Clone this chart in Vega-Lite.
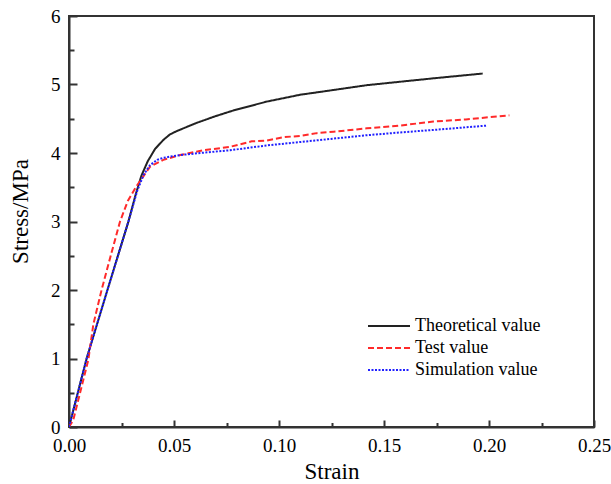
{
  "$schema": "https://vega.github.io/schema/vega-lite/v6.json",
  "width": 525,
  "height": 411,
  "autosize": {"type": "none"},
  "padding": {"left": 69, "top": 16, "right": 17, "bottom": 57},
  "background": "white",
  "config": {
    "view": {"stroke": "#333333", "strokeWidth": 2},
    "font": "Liberation Serif",
    "axis": {
      "labelFont": "Liberation Serif",
      "titleFont": "Liberation Serif",
      "labelFontSize": 19,
      "titleFontSize": 23,
      "titleFontWeight": "normal",
      "labelColor": "#000000",
      "titleColor": "#000000",
      "domainColor": "#333333",
      "domainWidth": 2,
      "tickColor": "#333333",
      "tickWidth": 2,
      "grid": false
    }
  },
  "data": {
    "values": [
      {"series": "Theoretical value", "strain": 0.0, "stress": 0.0},
      {"series": "Theoretical value", "strain": 0.0084, "stress": 1.0},
      {"series": "Theoretical value", "strain": 0.0183, "stress": 2.0},
      {"series": "Theoretical value", "strain": 0.0283, "stress": 3.0},
      {"series": "Theoretical value", "strain": 0.0318, "stress": 3.4},
      {"series": "Theoretical value", "strain": 0.0345, "stress": 3.67},
      {"series": "Theoretical value", "strain": 0.0375, "stress": 3.88},
      {"series": "Theoretical value", "strain": 0.041, "stress": 4.06},
      {"series": "Theoretical value", "strain": 0.0449, "stress": 4.19},
      {"series": "Theoretical value", "strain": 0.048, "stress": 4.27},
      {"series": "Theoretical value", "strain": 0.0513, "stress": 4.32},
      {"series": "Theoretical value", "strain": 0.0608, "stress": 4.44},
      {"series": "Theoretical value", "strain": 0.07, "stress": 4.54},
      {"series": "Theoretical value", "strain": 0.0782, "stress": 4.62},
      {"series": "Theoretical value", "strain": 0.0941, "stress": 4.75},
      {"series": "Theoretical value", "strain": 0.11, "stress": 4.85},
      {"series": "Theoretical value", "strain": 0.126, "stress": 4.92},
      {"series": "Theoretical value", "strain": 0.1418, "stress": 4.99},
      {"series": "Theoretical value", "strain": 0.1576, "stress": 5.04},
      {"series": "Theoretical value", "strain": 0.1735, "stress": 5.09},
      {"series": "Theoretical value", "strain": 0.197, "stress": 5.16},
      {"series": "Test value", "strain": 0.0, "stress": 0.0},
      {"series": "Test value", "strain": 0.002, "stress": 0.1},
      {"series": "Test value", "strain": 0.0052, "stress": 0.49},
      {"series": "Test value", "strain": 0.0092, "stress": 0.98},
      {"series": "Test value", "strain": 0.0116, "stress": 1.5},
      {"series": "Test value", "strain": 0.0155, "stress": 2.0},
      {"series": "Test value", "strain": 0.0203, "stress": 2.55},
      {"series": "Test value", "strain": 0.0243, "stress": 3.0},
      {"series": "Test value", "strain": 0.028, "stress": 3.3},
      {"series": "Test value", "strain": 0.032, "stress": 3.51},
      {"series": "Test value", "strain": 0.0386, "stress": 3.8},
      {"series": "Test value", "strain": 0.0449, "stress": 3.9},
      {"series": "Test value", "strain": 0.0529, "stress": 3.97},
      {"series": "Test value", "strain": 0.064, "stress": 4.04},
      {"series": "Test value", "strain": 0.0767, "stress": 4.09},
      {"series": "Test value", "strain": 0.087, "stress": 4.17},
      {"series": "Test value", "strain": 0.094, "stress": 4.18},
      {"series": "Test value", "strain": 0.102, "stress": 4.23},
      {"series": "Test value", "strain": 0.11, "stress": 4.25},
      {"series": "Test value", "strain": 0.118, "stress": 4.29},
      {"series": "Test value", "strain": 0.126, "stress": 4.31},
      {"series": "Test value", "strain": 0.1418, "stress": 4.36},
      {"series": "Test value", "strain": 0.1576, "stress": 4.4},
      {"series": "Test value", "strain": 0.1735, "stress": 4.46},
      {"series": "Test value", "strain": 0.189, "stress": 4.49},
      {"series": "Test value", "strain": 0.2097, "stress": 4.55},
      {"series": "Simulation value", "strain": 0.0, "stress": 0.0},
      {"series": "Simulation value", "strain": 0.0084, "stress": 1.0},
      {"series": "Simulation value", "strain": 0.0183, "stress": 2.0},
      {"series": "Simulation value", "strain": 0.0283, "stress": 3.0},
      {"series": "Simulation value", "strain": 0.0325, "stress": 3.45},
      {"series": "Simulation value", "strain": 0.0355, "stress": 3.68},
      {"series": "Simulation value", "strain": 0.0385, "stress": 3.82},
      {"series": "Simulation value", "strain": 0.042, "stress": 3.9},
      {"series": "Simulation value", "strain": 0.0449, "stress": 3.93},
      {"series": "Simulation value", "strain": 0.0529, "stress": 3.97},
      {"series": "Simulation value", "strain": 0.0624, "stress": 4.0},
      {"series": "Simulation value", "strain": 0.0767, "stress": 4.04},
      {"series": "Simulation value", "strain": 0.094, "stress": 4.11},
      {"series": "Simulation value", "strain": 0.11, "stress": 4.16},
      {"series": "Simulation value", "strain": 0.126, "stress": 4.21},
      {"series": "Simulation value", "strain": 0.142, "stress": 4.26},
      {"series": "Simulation value", "strain": 0.1576, "stress": 4.3},
      {"series": "Simulation value", "strain": 0.175, "stress": 4.34},
      {"series": "Simulation value", "strain": 0.199, "stress": 4.4}
    ]
  },
  "mark": {"type": "line", "strokeWidth": 2, "clip": true},
  "encoding": {
    "x": {
      "field": "strain",
      "type": "quantitative",
      "scale": {"domain": [0, 0.25], "nice": false, "zero": false},
      "axis": {
        "title": "Strain",
        "values": [0, 0.025, 0.05, 0.075, 0.1, 0.125, 0.15, 0.175, 0.2, 0.225, 0.25],
        "labelExpr": "round(datum.value*40)%2==0 ? format(datum.value,'.2f') : ''",
        "tickSize": {"condition": {"test": "round(datum.value*40)%2==0", "value": -7}, "value": -4.5},
        "labelPadding": 16,
        "labelFlush": false,
        "labelOverlap": false,
        "titlePadding": 3
      }
    },
    "y": {
      "field": "stress",
      "type": "quantitative",
      "scale": {"domain": [0, 6], "nice": false, "zero": false},
      "axis": {
        "title": "Stress/MPa",
        "values": [0, 0.5, 1, 1.5, 2, 2.5, 3, 3.5, 4, 4.5, 5, 5.5, 6],
        "labelExpr": "round(datum.value*2)%2==0 ? format(datum.value,'d') : ''",
        "tickSize": {"condition": {"test": "round(datum.value*2)%2==0", "value": -8}, "value": -5},
        "labelPadding": 17,
        "labelFlush": false,
        "labelOverlap": false,
        "titlePadding": 18,
        "titleY": 195
      }
    },
    "color": {
      "field": "series",
      "type": "nominal",
      "sort": ["Theoretical value", "Test value", "Simulation value"],
      "scale": {
        "domain": ["Theoretical value", "Test value", "Simulation value"],
        "range": ["#222222", "#ff2a2a", "#2020ff"]
      },
      "legend": {
        "title": null,
        "orient": "none",
        "legendX": 311,
        "legendY": 301,
        "symbolType": "M-3,0H3",
        "symbolSize": 196,
        "symbolStrokeWidth": 2,
        "symbolFillColor": "transparent",
        "labelFont": "Liberation Serif",
        "labelFontSize": 18,
        "labelColor": "#000000",
        "labelOffset": 17,
        "rowPadding": 4
      }
    },
    "strokeDash": {
      "field": "series",
      "type": "nominal",
      "sort": ["Theoretical value", "Test value", "Simulation value"],
      "scale": {
        "domain": ["Theoretical value", "Test value", "Simulation value"],
        "range": [[1, 0], [6, 3], [2, 1.5]]
      },
      "legend": null
    }
  }
}
